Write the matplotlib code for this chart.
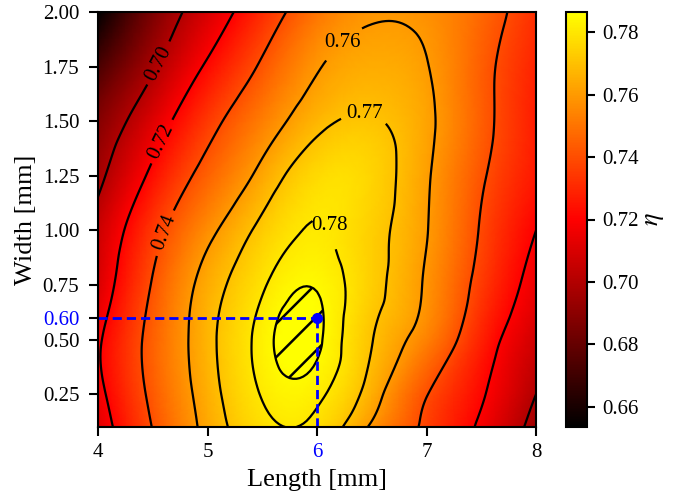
import numpy as np
import matplotlib
matplotlib.use("Agg")
import matplotlib.pyplot as plt
import matplotlib.tri as mtri
from matplotlib.colors import LinearSegmentedColormap

# grid (mm)
lengths = [4.0, 4.5, 5.0, 5.5, 6.0, 6.5, 7.0, 7.5, 8.0]
widths = [0.1, 0.25, 0.5, 0.75, 1.0, 1.25, 1.5, 1.75, 2.0]

# efficiency eta, one row per width (bottom -> top), columns follow lengths
eta_w010 = [0.712, 0.7405, 0.7636, 0.7776, 0.7775, 0.7583, 0.737, 0.7175, 0.695]
eta_w025 = [0.716, 0.7433, 0.7654, 0.7805, 0.7816, 0.7652, 0.7406, 0.7216, 0.700]
eta_w050 = [0.718, 0.7449, 0.767, 0.7826, 0.7860, 0.7704, 0.7535, 0.7284, 0.708]
eta_w075 = [0.710, 0.7411, 0.7645, 0.7790, 0.7845, 0.7735, 0.7585, 0.7351, 0.7147]
eta_w100 = [0.706, 0.7343, 0.7567, 0.7727, 0.7806, 0.7737, 0.7605, 0.7388, 0.720]
eta_w125 = [0.696, 0.7233, 0.7454, 0.7633, 0.7765, 0.775, 0.7614, 0.7418, 0.726]
eta_w150 = [0.688, 0.7115, 0.7346, 0.7528, 0.7672, 0.7708, 0.7625, 0.7445, 0.727]
eta_w175 = [0.673, 0.698, 0.722, 0.742, 0.759, 0.7645, 0.7605, 0.7445, 0.729]
eta_w200 = [0.654, 0.686, 0.710, 0.731, 0.750, 0.7585, 0.757, 0.747, 0.732]

contour_levels = [0.70, 0.72, 0.74, 0.76, 0.77, 0.78]
flat_label_levels = [0.76, 0.77, 0.78]
hatch_level = 0.785
cbar_ticks = [0.66, 0.68, 0.70, 0.72, 0.74, 0.76, 0.78]
x_ticks = [4, 5, 6, 7, 8]
y_ticks = [0.25, 0.50, 0.60, 0.75, 1.00, 1.25, 1.50, 1.75, 2.00]

# chosen design point
opt_length = 6.0
opt_width = 0.6

eta = np.array([eta_w010, eta_w025, eta_w050, eta_w075, eta_w100,
                eta_w125, eta_w150, eta_w175, eta_w200])

plt.rcParams['font.family'] = ['Liberation Serif', 'DejaVu Serif']
plt.rcParams['mathtext.fontset'] = 'stix'
plt.rcParams['hatch.linewidth'] = 1.8

cmap = LinearSegmentedColormap.from_list('blk_red_yel', ['black', 'red', 'yellow'])

L, W = np.meshgrid(lengths, widths)
tri = mtri.Triangulation(L.ravel(), W.ravel())
refiner = mtri.UniformTriRefiner(tri)
tri_f, eta_f = refiner.refine_field(eta.ravel(), subdiv=4)

fig = plt.figure(figsize=(6.89, 4.96), dpi=100)
ax = fig.add_axes([98/689, 1-427/496, 438/689, 415/496])
cax = fig.add_axes([566/689, 1-427/496, 21/689, 415/496])

mesh = ax.tripcolor(tri_f, eta_f, shading='gouraud', cmap=cmap,
                    vmin=0.6536, vmax=0.7864)
cs = ax.tricontour(tri_f, eta_f, levels=contour_levels, colors='black',
                   linewidths=1.6)
ax.tricontourf(tri_f, eta_f, levels=[hatch_level, 1.0], colors='none',
               hatches=['/'])
ax.tricontour(tri_f, eta_f, levels=[hatch_level], colors='black',
              linewidths=1.6)

label_pos = [(4.50, 1.78), (4.57, 1.41), (4.60, 0.99),
             (6.25, 1.85), (6.43, 1.51), (6.10, 1.02)]
labels = ax.clabel(cs, fmt='%.2f', fontsize=15, manual=label_pos,
                   inline=True, inline_spacing=6)
for txt in labels:
    if float(txt.get_text()) in flat_label_levels:
        txt.set_rotation(0)

# design point with guide lines
ax.hlines(opt_width, lengths[0], opt_length, colors='blue',
          linestyles=(0, (3.3, 1.8)), linewidth=2)
ax.vlines(opt_length, widths[0], opt_width, colors='blue',
          linestyles=(0, (3.3, 1.8)), linewidth=2)
ax.plot(opt_length, opt_width, 'o', color='blue', markersize=7)

ax.set_xlim(lengths[0], lengths[-1])
ax.set_ylim(widths[0], widths[-1])
ax.set_xticks(x_ticks)
ax.set_xticklabels([str(t) for t in x_ticks])
ax.set_yticks(y_ticks)
ax.set_yticklabels([f'{t:.2f}' for t in y_ticks])
for lab, t in zip(ax.get_xticklabels(), x_ticks):
    if t == opt_length:
        lab.set_color('blue')
for lab, t in zip(ax.get_yticklabels(), y_ticks):
    if abs(t - opt_width) < 1e-9:
        lab.set_color('blue')

ax.tick_params(labelsize=15, direction='out', length=6.5, width=1.5)
ax.tick_params(axis='x', pad=5)
ax.tick_params(axis='y', pad=7)
ax.set_xlabel('Length [mm]', fontsize=19, labelpad=5)
ax.set_ylabel('Width [mm]', fontsize=19, labelpad=4)
for sp in ax.spines.values():
    sp.set_linewidth(1.5)

cb = fig.colorbar(mesh, cax=cax, ticks=cbar_ticks)
cb.ax.set_yticklabels([f'{t:.2f}' for t in cbar_ticks])
cb.ax.tick_params(labelsize=15, direction='out', length=6, width=1.5, pad=5)
cb.outline.set_linewidth(1.5)
cb.set_label(r'$\eta$', fontsize=19)

fig.savefig('out.png', dpi=100)
